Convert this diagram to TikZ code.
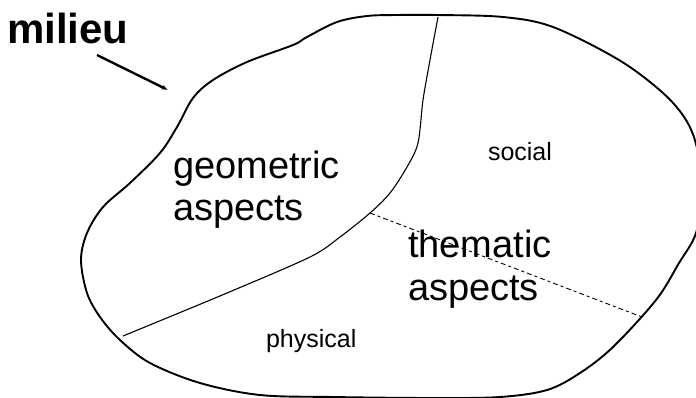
\documentclass[tikz,border=0pt]{standalone}
\usepackage{fontspec}
\setmainfont{Liberation Sans}
\usetikzlibrary{arrows.meta}
\tikzset{
  outline/.style={line width=1.9pt, line join=round},
  divider/.style={line width=1.1pt},
  thematicline/.style={line width=0.9pt, dash pattern=on 5pt off 3pt on 3pt off 3pt},
  pointer/.style={line width=2.4pt, -{Latex[length=6pt,width=5pt]}},
  lbl/.style={anchor=base west, inner sep=0pt, outer sep=0pt},
  big/.style={lbl, font=\fontsize{38}{42}\selectfont},
  small/.style={lbl, font=\fontsize{25}{28}\selectfont},
}
\begin{document}
\begin{tikzpicture}[x=1pt,y=-1pt]
\useasboundingbox (0,0) rectangle (696,397);
\clip (0,0) rectangle (696,397);
% blob outline
\draw[outline] plot[smooth cycle, tension=0.55] coordinates {
 (193,98) (213,80) (247,62) (293,45) (307,37) (337,22) (367,16) (397,15)
 (438,15) (503,17) (553,27) (619,60) (663,93) (686,120) (697,148) (702,190)
 (696,233) (679,263) (656,300) (613,347) (580,373) (547,390) (500,397)
 (433,398) (333,397) (260,395) (200,383) (150,363) (120,340) (100,317)
 (87,293) (81,260) (87,233) (103,207) (130,183) (160,153) (177,127)};
% geometric / thematic divider
\draw[divider] plot[smooth, tension=0.5] coordinates {
 (438,17) (430,60) (423,100) (418,143) (407,167) (390,193) (370,213)
 (340,237) (310,257) (227,293) (123,336)};
% thematic divider (dashed)
\coordinate (dA) at (370,213);
\coordinate (dB) at (642,317);
\draw[thematicline] (dA) -- (dB);
% milieu label and arrow
\node[lbl, font=\fontsize{42}{46}\selectfont\bfseries] (milieu) at (7,43) {milieu};
\coordinate (arrS) at (97,55);
\coordinate (arrE) at (168,90);
\draw[pointer] (arrS) -- (arrE);
% labels
\node[big] (geo1) at (173,178) {geometric};
\node[big] (geo2) at (173,220) {aspects};
\node[big] (the1) at (408,257) {thematic};
\node[big] (the2) at (408,300) {aspects};
\node[small] (social) at (488,160) {social};
\node[small] (physical) at (266,347) {physical};
\end{tikzpicture}
\end{document}
